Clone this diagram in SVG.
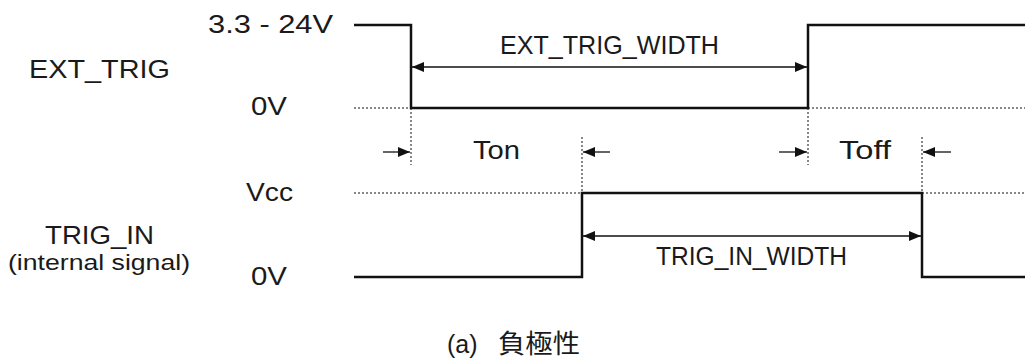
<svg xmlns="http://www.w3.org/2000/svg" width="1025" height="358" viewBox="0 0 1025 358">
<style>
.bg{fill:#ffffff}
.wave{fill:none;stroke:#111;stroke-width:2.5;stroke-linejoin:miter}
.dot{fill:none;stroke:#111;stroke-width:1;stroke-dasharray:2,2}
.dim{fill:none;stroke:#111;stroke-width:1.3}
.t{font-family:"Liberation Sans","Noto Sans CJK JP",sans-serif;font-size:25px;fill:#1a1a1a}
.s{font-family:"Liberation Sans","Noto Sans CJK JP",sans-serif;font-size:22px;fill:#1a1a1a}
.j{font-family:"Noto Sans CJK JP",sans-serif;font-size:26px;fill:#1a1a1a}
</style>
<defs>
<marker id="ah" viewBox="0 0 12 10" refX="12" refY="5" markerWidth="12" markerHeight="10" markerUnits="userSpaceOnUse" orient="auto-start-reverse">
<path d="M0,0 L12,5 L0,10 Z" fill="#111"/>
</marker>
</defs>
<rect class="bg" x="0" y="0" width="1025" height="358"/>

<g id="labels">
<text class="t" x="208" y="33" textLength="125" lengthAdjust="spacingAndGlyphs">3.3 - 24V</text>
<text class="t" x="29" y="78" textLength="141" lengthAdjust="spacingAndGlyphs">EXT_TRIG</text>
<text class="t" x="251" y="115" textLength="36" lengthAdjust="spacingAndGlyphs">0V</text>
<text class="t" x="246" y="201" textLength="47" lengthAdjust="spacingAndGlyphs">Vcc</text>
<text class="t" x="45" y="244" textLength="109" lengthAdjust="spacingAndGlyphs">TRIG_IN</text>
<text class="s" x="8" y="270" textLength="182" lengthAdjust="spacingAndGlyphs">(internal signal)</text>
<text class="t" x="251" y="285" textLength="36" lengthAdjust="spacingAndGlyphs">0V</text>
</g>

<g id="ext_trig">
<path class="wave" d="M354,25 H411 V108 H808 V25 H1025"/>
<path class="dot" d="M354,108 H411 M808,108 H1025"/>
</g>

<g id="trig_in">
<path class="wave" d="M354,277 H582 V193 H922 V277 H1025"/>
<path class="dot" d="M354,193 H582 M922,193 H1025"/>
</g>

<g id="connectors">
<path class="dot" d="M411,108 V165 M808,108 V165 M582,137 V193 M922,137 V193"/>
<line class="dim" x1="412" y1="67" x2="807" y2="67" marker-start="url(#ah)" marker-end="url(#ah)"/>
<line class="dim" x1="583" y1="236" x2="921" y2="236" marker-start="url(#ah)" marker-end="url(#ah)"/>
<line class="dim" x1="383" y1="152" x2="410" y2="152" marker-end="url(#ah)"/>
<line class="dim" x1="610" y1="152" x2="583" y2="152" marker-end="url(#ah)"/>
<line class="dim" x1="779" y1="152" x2="807" y2="152" marker-end="url(#ah)"/>
<line class="dim" x1="951" y1="152" x2="923" y2="152" marker-end="url(#ah)"/>
</g>

<g id="dim_labels">
<text class="t" x="500" y="54" textLength="219" lengthAdjust="spacingAndGlyphs">EXT_TRIG_WIDTH</text>
<text class="t" x="473" y="159" textLength="47" lengthAdjust="spacingAndGlyphs">Ton</text>
<text class="t" x="839" y="159" textLength="52" lengthAdjust="spacingAndGlyphs">Toff</text>
<text class="t" x="656" y="265" textLength="191" lengthAdjust="spacingAndGlyphs">TRIG_IN_WIDTH</text>
</g>

<g id="caption">
<text class="t"><tspan x="447" y="353">(a)</tspan><tspan class="j" x="498" y="353" textLength="82" lengthAdjust="spacingAndGlyphs">負極性</tspan></text>
</g>
</svg>
